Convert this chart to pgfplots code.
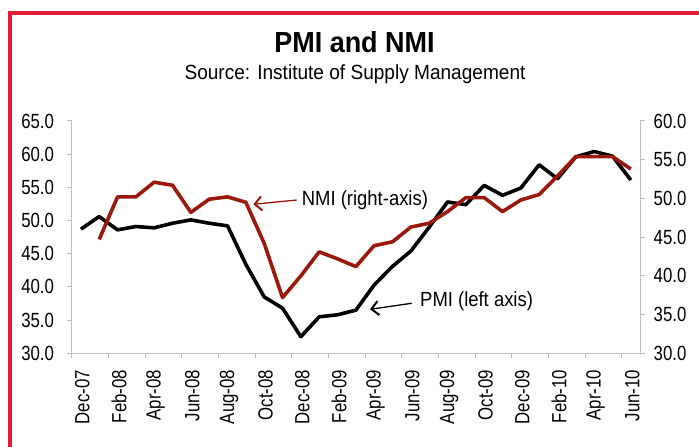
\documentclass[border=0pt]{standalone}
\usepackage{fontspec}
\setmainfont{Liberation Sans}
\newfontfamily\condfont{Liberation Sans}[FakeStretch=0.82]
\newfontfamily\titlefont{Liberation Sans}[FakeStretch=0.93]
\newfontfamily\notefont{Liberation Sans}[FakeStretch=0.9]
\usepackage{pgfplots}
\pgfplotsset{compat=1.18}
\usetikzlibrary{arrows.meta}
\definecolor{framered}{RGB}{226,27,56}
\definecolor{nmired}{RGB}{155,25,10}
\definecolor{axgray}{RGB}{190,190,190}

\pgfplotstableread{
x pmi
0 48.7
1 50.6
2 48.6
3 49.1
4 48.9
5 49.6
6 50.1
7 49.6
8 49.2
9 43.4
10 38.5
11 36.8
12 32.5
13 35.5
14 35.8
15 36.5
16 40.3
17 43.1
18 45.4
19 49.0
20 52.8
21 52.4
22 55.3
23 53.8
24 54.9
25 58.4
26 56.3
27 59.6
28 60.4
29 59.7
30 56.1
}\pmidata

\pgfplotstableread{
x nmi
1 44.7
2 50.2
3 50.2
4 52.1
5 51.7
6 48.2
7 49.9
8 50.2
9 49.5
10 44.2
11 37.2
12 40.0
13 43.1
14 42.2
15 41.2
16 43.9
17 44.4
18 46.3
19 46.8
20 48.3
21 50.1
22 50.1
23 48.3
24 49.8
25 50.5
26 52.9
27 55.4
28 55.4
29 55.4
30 53.8
}\nmidata

\begin{document}
\begin{tikzpicture}
\useasboundingbox (0pt,0pt) rectangle (699pt,447pt);
% frame
\draw[framered, line width=4pt] (9.5pt,0pt) -- (9.5pt,434pt) -- (699pt,434pt);
% titles
\node[anchor=base, inner sep=0pt] at (354.5pt,394pt) {\titlefont\bfseries\fontsize{29}{34}\selectfont PMI and NMI};
\node[anchor=base, inner sep=0pt] at (355pt,367pt) {\titlefont\fontsize{20.5}{24}\selectfont Source: Institute of Supply Management};

\begin{axis}[
  at={(71.7pt,93.7pt)}, anchor=south west,
  scale only axis, width=568.3pt, height=232.3pt,
  xmin=-0.5, xmax=30.5, ymin=30, ymax=65,
  axis x line*=bottom, axis y line*=left,
  axis line style={axgray, line width=1pt},
  every tick/.style={axgray, line width=1pt},
  tick align=outside,
  major tick length=4.5pt, minor tick length=5pt,
  xtick={0,2,...,30},
  xticklabels={Dec-07,Feb-08,Apr-08,Jun-08,Aug-08,Oct-08,Dec-08,Feb-09,Apr-09,Jun-09,Aug-09,Oct-09,Dec-09,Feb-10,Apr-10,Jun-10},
  every major x tick/.style={draw=none},
  minor xtick={-0.5,1.5,3.5,5.5,7.5,9.5,11.5,13.5,15.5,17.5,19.5,21.5,23.5,25.5,27.5,29.5},
  ytick={30,35,...,65},
  /pgf/number format/assume math mode=true,
  yticklabel style={/pgf/number format/fixed, /pgf/number format/fixed zerofill, /pgf/number format/precision=1, anchor=east, inner sep=0pt, xshift=-13pt},
  xticklabel style={yshift=-12pt, xshift=1.5pt, rotate=90, anchor=east, inner sep=0pt},
  tick label style={font=\condfont\fontsize{20.5}{24}\selectfont, text=black},
  clip=false,
]
\addplot[black, line width=3.6pt, line join=round] table[x=x,y=pmi] {\pmidata};
\end{axis}

\begin{axis}[
  at={(71.7pt,93.7pt)}, anchor=south west,
  scale only axis, width=568.3pt, height=232.3pt,
  xmin=-0.5, xmax=30.5, ymin=30, ymax=60,
  axis y line*=right, axis x line=none,
  axis line style={axgray, line width=1pt},
  every tick/.style={axgray, line width=1pt},
  tick align=outside,
  major tick length=4.5pt,
  ytick={30,35,...,60},
  /pgf/number format/assume math mode=true,
  yticklabel style={/pgf/number format/fixed, /pgf/number format/fixed zerofill, /pgf/number format/precision=1, anchor=west, inner sep=0pt, xshift=9pt},
  tick label style={font=\condfont\fontsize{20.5}{24}\selectfont, text=black},
  clip=false,
]
\addplot[nmired, line width=3.6pt, line join=round] table[x=x,y=nmi] {\nmidata};
\end{axis}

% annotations
\node[anchor=base west, inner sep=0pt] at (301.7pt,241pt) {\notefont\fontsize{20.5}{24}\selectfont NMI (right-axis)};
\draw[nmired, line width=1.3pt, -{Straight Barb[length=7pt,width=14pt,line width=2pt]}] (296.7pt,247pt) -- (253.3pt,242.7pt);
\node[anchor=base west, inner sep=0pt] at (420pt,140.3pt) {\notefont\fontsize{20.5}{24}\selectfont PMI (left axis)};
\draw[black, line width=1.3pt, -{Straight Barb[length=7pt,width=14pt,line width=2pt]}] (411.7pt,143.7pt) -- (370pt,137.7pt);
\end{tikzpicture}
\end{document}
